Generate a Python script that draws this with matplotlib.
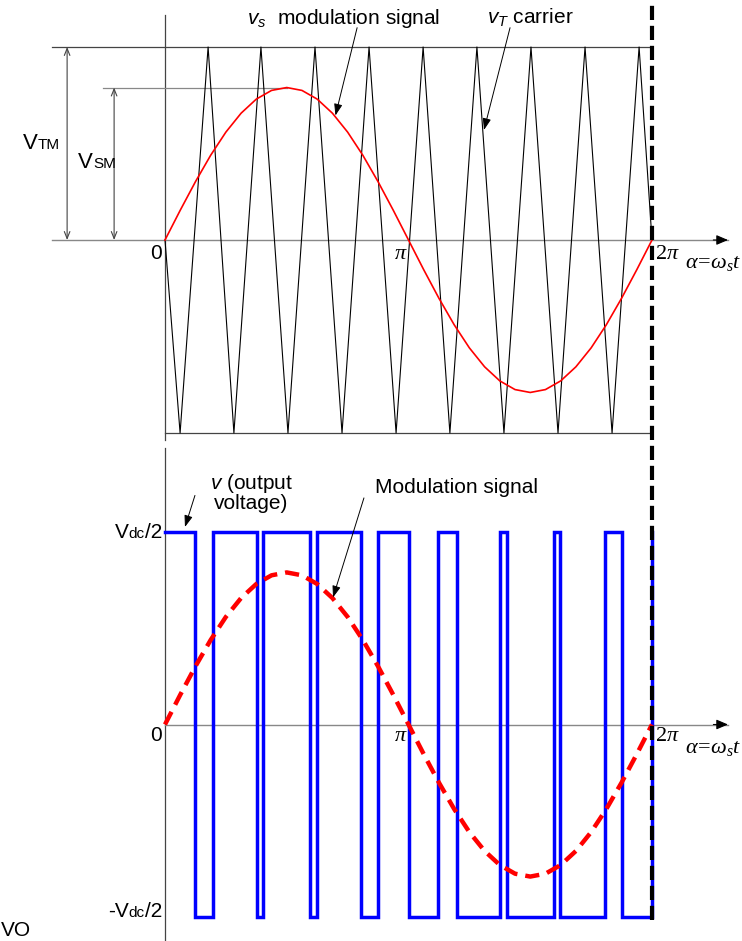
import numpy as np
import matplotlib.pyplot as plt
from matplotlib.offsetbox import TextArea, HPacker, AnnotationBbox

plt.rcParams['font.family'] = ['Liberation Sans', 'DejaVu Sans']
plt.rcParams['mathtext.fontset'] = 'custom'
plt.rcParams['mathtext.rm'] = 'Liberation Serif'
plt.rcParams['mathtext.it'] = 'Liberation Serif:italic'
plt.rcParams['mathtext.sf'] = 'Liberation Sans:italic'

# angles are in units of pi (0 .. 2 -> 0 .. 2*pi)
sine_angle = np.linspace(0, 2, 33)
sine_value = [0, 0.154, 0.302, 0.439, 0.559, 0.657, 0.730, 0.775, 0.790,
              0.775, 0.730, 0.657, 0.559, 0.439, 0.302, 0.154, 0,
              -0.154, -0.302, -0.439, -0.559, -0.657, -0.730, -0.775, -0.790,
              -0.775, -0.730, -0.657, -0.559, -0.439, -0.302, -0.154, 0]

carrier_angle = [0, 0.062, 0.177, 0.283, 0.394, 0.505, 0.616, 0.727, 0.838, 0.949,
                 1.060, 1.170, 1.281, 1.392, 1.503, 1.614, 1.725, 1.836, 1.947, 2.0]
carrier_value = [0, -1, 1, -1, 1, -1, 1, -1, 1, -1,
                 1, -1, 1, -1, 1, -1, 1, -1, 1, 0]

# switching instants of the output voltage (starts high)
switch_angle = [0.123, 0.197, 0.376, 0.402, 0.596, 0.624, 0.805, 0.875, 1.0,
                1.123, 1.199, 1.376, 1.404, 1.596, 1.624, 1.805, 1.875]

VTM = 1.0
VSM = 0.79
VDC_HALF = 1.0

W, H = 742, 941
X0, XSCALE = 165, 243.5  # pixel of angle 0, pixels per pi


def px_axes(top, bottom, y0, yscale):
    ax = fig.add_axes([0, 1 - bottom / H, 1, (bottom - top) / H])
    ax.set_xlim(-X0 / XSCALE, (W - X0) / XSCALE)
    ax.set_ylim((y0 - bottom) / yscale, (y0 - top) / yscale)
    ax.axis('off')
    return ax


def pieced(ax, xy, pieces, align):
    kids = [TextArea(s, textprops=dict(fontsize=fs, family='Liberation Sans')) for s, fs in pieces]
    pack = HPacker(children=kids, align='baseline', pad=0, sep=0)
    ab = AnnotationBbox(pack, xy, xycoords='data', frameon=False, box_alignment=align,
                        pad=0, annotation_clip=False)
    ax.add_artist(ab)


def axis_arrow(ax, x_from, tip):
    ax.plot([x_from, tip], [0, 0], color='#888888', lw=1.0, clip_on=False)
    ax.annotate('', xy=(tip, 0), xytext=(tip - 0.06, 0),
                arrowprops=dict(arrowstyle='-|>,head_length=0.7,head_width=0.3',
                                color='k', lw=0.8, shrinkA=0, shrinkB=0),
                annotation_clip=False)


def angle_labels(ax, ypi, yal):
    ax.text(-0.014, ypi, '0', fontsize=15, ha='right', va='center')
    ax.text(0.968, ypi, r'$\pi$', fontsize=16, ha='center', va='center')
    ax.text(2.012, ypi, r'$2\pi$', fontsize=16, ha='left', va='center')
    ax.text(2.134, yal, r'$\alpha\!=\!\omega_s t$', fontsize=16, ha='left', va='baseline')


fig = plt.figure(figsize=(W / 100, H / 100), dpi=100)

# ---------------- top panel: carrier and modulation ----------------
ax1 = px_axes(0, 470, 240, 193)
ax1.plot([0, 0], [1.166, -1.036], color='#444444', lw=0.9, clip_on=False)
ax1.plot([-0.464, 2.0], [VTM, VTM], color='#444444', lw=0.9)
ax1.plot([-0.255, 0.5], [VSM, VSM], color='#888888', lw=0.9)
ax1.plot([0, 2.0], [-VTM, -VTM], color='#444444', lw=0.9)
axis_arrow(ax1, -0.464, 2.312)

ax1.plot(carrier_angle, carrier_value, color='k', lw=0.8)
ax1.plot(sine_angle, sine_value, color='#ff0000', lw=1.2)

ax1.annotate('', xy=(-0.402, VTM), xytext=(-0.402, 0),
             arrowprops=dict(arrowstyle='<->,head_length=0.5,head_width=0.2', color='#444444',
                             lw=0.8, shrinkA=0, shrinkB=0))
ax1.annotate('', xy=(-0.209, VSM), xytext=(-0.209, 0),
             arrowprops=dict(arrowstyle='<->,head_length=0.5,head_width=0.2', color='#444444',
                             lw=0.8, shrinkA=0, shrinkB=0))
pieced(ax1, (-0.583, 0.50), [('V', 16), ('TM', 11)], (0, 0.5))
pieced(ax1, (-0.357, 0.40), [('V', 16), ('SM', 11)], (0, 0.5))

angle_labels(ax1, -0.07, -0.145)

ax1.text(0.335, 1.15, r'$\mathsf{v_s}$  modulation signal', fontsize=15, ha='left', va='center')
ax1.annotate('', xy=(0.70, 0.645), xytext=(0.789, 1.10),
             arrowprops=dict(arrowstyle='-|>,head_length=0.7,head_width=0.25', color='k',
                             lw=0.7, shrinkA=0, shrinkB=0), annotation_clip=False)
ax1.text(1.322, 1.15, r'$\mathsf{v_T}$ carrier', fontsize=15, ha='left', va='center')
ax1.annotate('', xy=(1.310, 0.57), xytext=(1.417, 1.10),
             arrowprops=dict(arrowstyle='-|>,head_length=0.7,head_width=0.25', color='k',
                             lw=0.7, shrinkA=0, shrinkB=0), annotation_clip=False)

# ---------------- bottom panel: output voltage ----------------
ax2 = px_axes(470, 941, 724.5, 192.5)
ax2.plot([0, 0], [1.436, -1.13], color='#444444', lw=0.9, clip_on=False)
axis_arrow(ax2, 0, 2.312)

vx, vy, level = [0], [VDC_HALF], VDC_HALF
for a in switch_angle:
    vx += [a, a]
    vy += [level, -level]
    level = -level
vx += [2.0, 2.0]
vy += [level, VDC_HALF]
ax2.plot(vx, vy, color='#0000ff', lw=2.5, solid_joinstyle='miter')

ax2.plot(sine_angle, sine_value, color='#ff0000', lw=3.2, dashes=(3.2, 1.8))

pieced(ax2, (-0.012, VDC_HALF), [('V', 15), ('dc', 11), ('/2', 15)], (1, 0.5))
pieced(ax2, (-0.012, -0.97), [('-V', 15), ('dc', 11), ('/2', 15)], (1, 0.5))
angle_labels(ax2, -0.055, -0.148)

ax2.text(0.355, 1.205, r'$\mathsf{v}$ (output' + '\nvoltage)', fontsize=15, ha='center',
         va='center', linespacing=0.95)
ax2.annotate('', xy=(0.082, 1.026), xytext=(0.123, 1.19),
             arrowprops=dict(arrowstyle='-|>,head_length=0.7,head_width=0.25', color='k',
                             lw=0.7, shrinkA=0, shrinkB=0), annotation_clip=False)
ax2.text(0.862, 1.229, 'Modulation signal', fontsize=15, ha='left', va='center')
ax2.annotate('', xy=(0.690, 0.66), xytext=(0.817, 1.177),
             arrowprops=dict(arrowstyle='-|>,head_length=0.7,head_width=0.25', color='k',
                             lw=0.7, shrinkA=0, shrinkB=0), annotation_clip=False)

# lettering at the bottom edge
fig.text(0.001, 1 - 940 / H, 'VO', fontsize=15, ha='left', va='bottom')

# ---------------- dashed 2*pi marker across both panels ----------------
ax0 = fig.add_axes([0, 0, 1, 1])
ax0.set_xlim(-X0 / XSCALE, (W - X0) / XSCALE)
ax0.set_ylim(0, 1)
ax0.axis('off')
ax0.axvline(2.0, ymin=1 - 920 / H, ymax=1, color='k', lw=3, dashes=(3.4, 1.4))

fig.savefig('out.png', dpi=100)
